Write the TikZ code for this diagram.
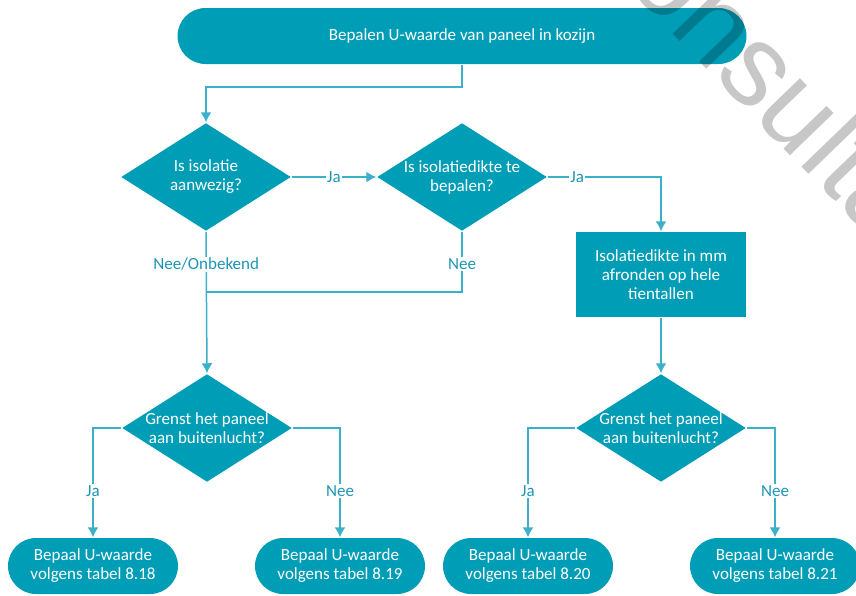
\documentclass[tikz,border=0pt]{standalone}
\usepackage{fontspec}
\setmainfont{Carlito}
\setsansfont{Liberation Sans}
\usepackage{tikz}
\usetikzlibrary{arrows.meta, shapes.geometric, shapes.misc}

\definecolor{flowteal}{RGB}{0,157,182}
\definecolor{linkteal}{RGB}{60,176,200}
\definecolor{labelteal}{RGB}{30,150,180}

\begin{document}
\begin{tikzpicture}[x=1pt, y=-1pt, >={Latex[length=10pt,width=11pt]}, line width=1.5pt,
	flowtext/.style={text=white, align=center, font=\fontsize{17}{19}\selectfont},
	term/.style={flowtext, rounded rectangle, fill=flowteal, minimum width=170pt, minimum height=56pt, inner sep=0pt},
	decision/.style={flowtext, diamond, fill=flowteal, minimum width=170pt, minimum height=108pt, inner xsep=-25pt, inner ysep=-8pt},
	process/.style={flowtext, rectangle, fill=flowteal, minimum width=170pt, minimum height=85pt, inner sep=0pt},
	lbl/.style={fill=white, text=labelteal, inner sep=1.5pt, font=\fontsize{17}{19}\selectfont},
	link/.style={draw=linkteal, line width=1.5pt},
	watermark/.style={text=black, text opacity=0.22, font=\sffamily\fontsize{115}{115}\selectfont, inner sep=0pt}]
	\useasboundingbox (0,0) rectangle (856,595);
	
	\node[term, minimum width=569pt] (start) at (462,36) {Bepalen U-waarde van paneel in kozijn};
	
	\node[decision] (isolatie) at (206,177) {Is isolatie\\aanwezig?};
	\node[decision] (dikte) at (462,177) {Is isolatiedikte te\\bepalen?};
	\node[process] (afronden) at (661,274.5) {Isolatiedikte in mm\\afronden op hele\\tientallen};
	
	\node[decision] (grens_l) at (207,428) {Grenst het paneel\\aan buitenlucht?};
	\node[decision] (grens_r) at (661,428) {Grenst het paneel\\aan buitenlucht?};
	
	\node[term] (tabel_18) at (93,566) {Bepaal U-waarde\\volgens tabel 8.18};
	\node[term] (tabel_19) at (340,566) {Bepaal U-waarde\\volgens tabel 8.19};
	\node[term] (tabel_20) at (528,566) {Bepaal U-waarde\\volgens tabel 8.20};
	\node[term] (tabel_21) at (775,566) {Bepaal U-waarde\\volgens tabel 8.21};
	
	\coordinate (top_bend) at (206,87);
	\coordinate (join) at (206,292);
	
	\draw[link, ->] (start.south) |- (top_bend) -- (isolatie.north);
	\draw[link, ->] (isolatie.east) -- node[lbl]{Ja} (dikte.west);
	\draw[link, ->] (dikte.east) -| node[lbl, pos=0.13]{Ja} (afronden.north);
	\draw[link, ->] (isolatie.south) -- node[lbl, pos=0.23]{Nee/Onbekend} (grens_l.north);
	\draw[link] (dikte.south) |- node[lbl, pos=0.27]{Nee} (join);
	\draw[link, ->] (afronden.south) -- (grens_r.north);
	
	\draw[link, ->] (grens_l.west) -| node[lbl, pos=0.79]{Ja} (tabel_18.north);
	\draw[link, ->] (grens_l.east) -| node[lbl, pos=0.79]{Nee} (tabel_19.north);
	\draw[link, ->] (grens_r.west) -| node[lbl, pos=0.79]{Ja} (tabel_20.north);
	\draw[link, ->] (grens_r.east) -| node[lbl, pos=0.79]{Nee} (tabel_21.north);
	
	% watermerk
	\begin{scope}
		\clip (0,0) rectangle (856,595);
		\node[watermark, anchor=base west, rotate=-46] (stempel) at (565,-78) {Consultancy};
	\end{scope}
\end{tikzpicture}
\end{document}
